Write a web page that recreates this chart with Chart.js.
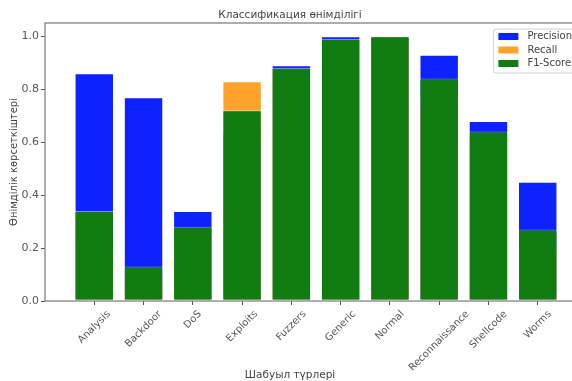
<!DOCTYPE html>
<html>
<head>
<meta charset="utf-8">
<script src="https://cdn.jsdelivr.net/npm/chart.js@4/dist/chart.umd.min.js"></script>
<style>
  html, body { margin: 0; padding: 0; overflow: hidden; background: #fff; }
  #wrap { width: 592px; height: 381px; }
</style>
</head>
<body>
<div id="wrap"><canvas id="perfChart"></canvas></div>
<script>
// data
const categories = ['Analysis', 'Backdoor', 'DoS', 'Exploits', 'Fuzzers', 'Generic', 'Normal', 'Reconnaissance', 'Shellcode', 'Worms'];
const precision = [0.86, 0.77, 0.34, 0.64, 0.89, 1.00, 1.00, 0.93, 0.68, 0.45];
const recall = [0.21, 0.07, 0.24, 0.83, 0.87, 0.98, 1.00, 0.77, 0.60, 0.19];
const f1Score = [0.34, 0.13, 0.28, 0.72, 0.88, 0.99, 1.00, 0.84, 0.64, 0.27];
const yTicks = [0.0, 0.2, 0.4, 0.6, 0.8, 1.0];

const seriesNames = ['Precision', 'Recall', 'F1-Score'];
const seriesColors = ['#0d22fe', '#ffa22c', '#117c11'];

const chartTitle = 'Классификация өнімділігі';
const xTitle = 'Шабуыл түрлері';
const yTitle = 'Өнімділік көрсеткіштері';

const FONT = 'DejaVu Sans';

function points(values) {
  return values.map(function (v, i) { return { x: i, y: v }; });
}

// frame, rotated tick labels, title, legend (matplotlib look)
const mplDecor = {
  id: 'mplDecor',
  afterDraw: function (chart) {
    const ctx = chart.ctx;
    const area = chart.chartArea;
    const xs = chart.scales.x;
    ctx.save();

    // axes frame
    ctx.strokeStyle = '#777';
    ctx.lineWidth = 1.2;
    ctx.strokeRect(area.left, area.top, area.right - area.left, area.bottom - area.top);

    // x tick labels, rotated 45 and centred under each tick
    ctx.font = '10px "' + FONT + '"';
    ctx.fillStyle = '#555';
    ctx.textAlign = 'center';
    ctx.textBaseline = 'middle';
    categories.forEach(function (label, i) {
      const px = xs.getPixelForValue(i);
      const w = ctx.measureText(label).width;
      const box = (w + 10) * Math.SQRT1_2;
      ctx.save();
      ctx.translate(px, area.bottom + 8 + box / 2);
      ctx.rotate(-Math.PI / 4);
      ctx.fillText(label, 0, 0);
      ctx.restore();
    });

    // title and x axis label
    ctx.fillStyle = '#444';
    ctx.font = '10.5px "' + FONT + '"';
    ctx.fillText(chartTitle, 290, 15);
    ctx.fillText(xTitle, 290, 375);

    // legend box in the upper right corner
    ctx.font = '10px "' + FONT + '"';
    let textW = 0;
    seriesNames.forEach(function (n) { textW = Math.max(textW, ctx.measureText(n).width); });
    const boxW = 5 + 20 + 9 + textW + 10;
    const boxH = 44;
    const bx = area.right - 5 - boxW;
    const by = area.top + 6;
    ctx.fillStyle = 'rgba(255,255,255,0.85)';
    ctx.strokeStyle = '#d0d0d0';
    ctx.lineWidth = 1;
    ctx.beginPath();
    ctx.roundRect(bx, by, boxW, boxH, 3);
    ctx.fill();
    ctx.stroke();
    ctx.textAlign = 'left';
    seriesNames.forEach(function (n, i) {
      const cy = by + 7.5 + i * 13.5;
      ctx.fillStyle = seriesColors[i];
      ctx.fillRect(bx + 5, cy - 3.5, 20, 7);
      ctx.fillStyle = '#444';
      ctx.fillText(n, bx + 34, cy);
    });

    ctx.restore();
  }
};

const ctx = document.getElementById('perfChart').getContext('2d');
const perfChart = new Chart(ctx, {
  type: 'bar',
  data: {
    datasets: [
      { label: seriesNames[0], data: points(precision), backgroundColor: seriesColors[0], order: 3 },
      { label: seriesNames[1], data: points(recall), backgroundColor: seriesColors[1], order: 2 },
      { label: seriesNames[2], data: points(f1Score), backgroundColor: seriesColors[2], order: 1 }
    ]
  },
  options: {
    responsive: true,
    maintainAspectRatio: false,
    animation: false,
    layout: { padding: { top: 23, right: 5, left: 0, bottom: 0 } },
    datasets: {
      bar: {
        grouped: false,
        barPercentage: 0.8,
        categoryPercentage: 1.0,
        borderWidth: 1,
        borderColor: 'rgba(255,255,255,0.45)',
        borderSkipped: false
      }
    },
    scales: {
      x: {
        type: 'linear',
        offset: false,
        min: -1,
        max: 10,
        afterBuildTicks: function (scale) {
          scale.ticks = categories.map(function (c, i) { return { value: i }; });
        },
        afterFit: function (scale) { scale.height = 80; },
        ticks: { display: false },
        grid: { offset: false, drawOnChartArea: false, drawTicks: true, tickLength: 4, color: '#555' },
        border: { display: false }
      },
      y: {
        min: 0,
        max: 1.05,
        afterBuildTicks: function (scale) {
          scale.ticks = yTicks.map(function (v) { return { value: v }; });
        },
        afterFit: function (scale) { scale.width = 45; },
        ticks: {
          padding: 2,
          color: '#555',
          font: { family: FONT, size: 11 },
          callback: function (v) { return Number(v).toFixed(1); }
        },
        grid: { drawOnChartArea: false, drawTicks: true, tickLength: 4, color: '#555' },
        border: { display: false },
        title: {
          display: true,
          text: yTitle,
          color: '#444',
          font: { family: FONT, size: 10 },
          padding: { top: 8, bottom: 0 }
        }
      }
    },
    plugins: {
      legend: { display: false },
      title: { display: false },
      tooltip: { enabled: false }
    }
  },
  plugins: [mplDecor]
});
</script>
</body>
</html>
